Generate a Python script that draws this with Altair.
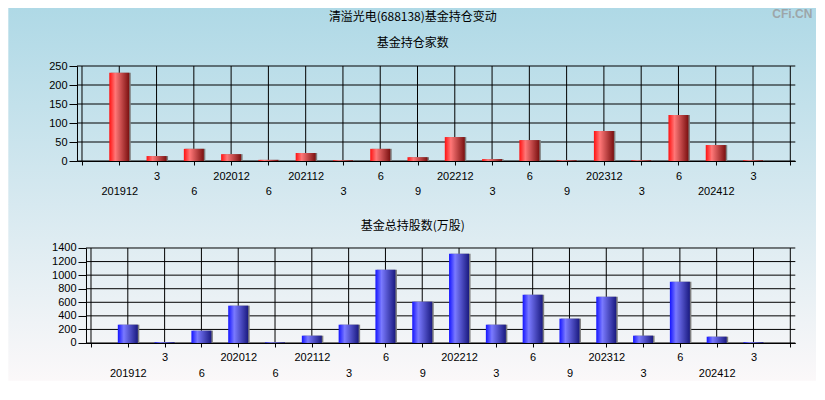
import json
import altair as alt
import pandas as pd

# ---------------- data ----------------
periods = ["201912", "3", "6", "202012", "6", "202112", "3", "6", "9",
           "202212", "3", "6", "9", "202312", "3", "6", "202412", "3"]
fund_count = [232, 13, 32, 18, 3, 21, 2, 32, 10, 63, 5, 55, 2, 79, 2, 121, 42, 2]
fund_shares = [270, 12, 182, 550, 10, 108, 270, 1081, 609, 1316, 270, 712, 359,
               683, 108, 904, 93, 12]
count_ticks = [0, 50, 100, 150, 200, 250]
share_ticks = [0, 200, 400, 600, 800, 1000, 1200, 1400]

main_title = "清溢光电(688138)基金持仓变动"
top_title = "基金持仓家数"
bottom_title = "基金总持股数(万股)"
watermark = "CFi.CN"

n = len(periods)
slots = list(range(0, n + 2))          # grid positions 0..19
positions = list(range(1, n + 1))      # bar positions 1..18

df = pd.DataFrame({"pos": positions, "period": periods,
                   "count": fund_count, "shares": fund_shares})
one = pd.DataFrame({"a": [0]})

# ---------------- style helpers ----------------
C0 = (173, 216, 230)   # lightblue at top of page
C1 = (255, 250, 250)   # snow at bottom of page


def page_color(yp):
    t = max(0.0, min(1.0, yp / 400.0))
    r, g, b = (round(C0[i] + (C1[i] - C0[i]) * t) for i in range(3))
    return f"#{r:02x}{g:02x}{b:02x}"


def vgrad(y0, y1):
    return alt.Gradient(gradient="linear", x1=0, y1=0, x2=0, y2=1,
                        stops=[alt.GradientStop(offset=0, color=page_color(y0)),
                               alt.GradientStop(offset=1, color=page_color(y1))])


def bargrad(c_left, c_mid, c_right):
    return alt.Gradient(gradient="linear", x1=0, y1=0, x2=1, y2=0,
                        stops=[alt.GradientStop(offset=0, color=c_left),
                               alt.GradientStop(offset=0.3, color=c_mid),
                               alt.GradientStop(offset=1, color=c_right)])


LABEL_FONT = "Liberation Sans"
CJK_FONT = "Noto Sans CJK SC"
arr = json.dumps(periods, ensure_ascii=False)
label_expr = (f"datum.value >= 1 && datum.value <= {n} ? "
              f"(datum.value % 2 == 1 ? ['', {arr}[datum.value - 1]] : {arr}[datum.value - 1]) : ''")

# page extents of the drawing (kept inside the 825x400 window)
PAGE_L, PAGE_R, PAGE_T, PAGE_MID, PAGE_B = 8, 816, 8, 205, 380
LEFT = 76.7      # page x of the (common) plot origin
WIDTH = 718.3    # plot width up to the right border


def panel(field, domain, ticks, inset, top, height, colors, title_text,
          with_main=False):
    xscale = alt.Scale(domain=[0, n + 1], nice=False, zero=False,
                       range=[inset, WIDTH])
    yscale = alt.Scale(domain=domain, nice=False)
    y0 = PAGE_T if with_main else PAGE_MID - 1
    y1 = PAGE_MID if with_main else PAGE_B

    xaxis = alt.Axis(values=slots, grid=False, title=None, labelExpr=label_expr,
                     tickSize=4, tickColor="black", domainColor="black",
                     labelFont=LABEL_FONT, labelFontSize=11, labelColor="black",
                     labelPadding=5, labelLineHeight=16, labelFlush=False,
                     labelOverlap=False, labelBaseline="top", zindex=1)
    yaxis = alt.Axis(values=ticks, grid=False, title=None, tickSize=8,
                     tickColor="black", domainColor="black", format="d",
                     labelFont=LABEL_FONT, labelFontSize=11, labelColor="black",
                     labelPadding=2, labelOverlap=False, zindex=1,
                     offset=-inset)

    bg = alt.Chart(one).mark_rect(color=vgrad(y0, y1)).encode(
        x=alt.value(PAGE_L - LEFT), x2=alt.value(PAGE_R - LEFT),
        y=alt.value(y0 - top), y2=alt.value(y1 - top))

    vgrid = alt.Chart(pd.DataFrame({"pos": slots})).mark_rule(
        color="black", strokeWidth=1).encode(
        x=alt.X("pos:Q", scale=xscale, axis=xaxis))
    hgrid = alt.Chart(pd.DataFrame({field: ticks})).mark_rule(
        color="black", strokeWidth=1).encode(
        y=alt.Y(f"{field}:Q", scale=yscale, axis=yaxis),
        x=alt.value(inset), x2=alt.value(WIDTH))

    shadow = alt.Chart(df).mark_bar(size=20, xOffset=1.5, color="#7f7f7f").encode(
        x=alt.X("pos:Q", scale=xscale, axis=xaxis),
        y=alt.Y(f"{field}:Q", scale=yscale, axis=yaxis))
    bars = alt.Chart(df).mark_bar(size=20, color=bargrad(*colors)).encode(
        x=alt.X("pos:Q", scale=xscale, axis=xaxis),
        y=alt.Y(f"{field}:Q", scale=yscale, axis=yaxis),
        tooltip=["period", f"{field}:Q"])

    cx = 412.5 - LEFT
    texts = []
    if with_main:
        texts.append(alt.Chart(one).mark_text(
            text=main_title, font=CJK_FONT, fontSize=12, color="black",
            baseline="middle", align="center").encode(
            x=alt.value(cx), y=alt.value(17 - top)))
        texts.append(alt.Chart(one).mark_text(
            text=watermark, font=LABEL_FONT, fontSize=12, fontWeight="bold",
            color="#9da6a9", baseline="top", align="right").encode(
            x=alt.value(PAGE_R - 4 - LEFT), y=alt.value(PAGE_T + 1 - top)))
        sub_y = 43
    else:
        sub_y = 225
    texts.append(alt.Chart(one).mark_text(
        text=title_text, font=CJK_FONT, fontSize=12, color="black",
        baseline="middle", align="center").encode(
        x=alt.value(cx), y=alt.value(sub_y - top)))

    return alt.layer(bg, vgrid, hgrid, shadow, bars, *texts).properties(
        width=WIDTH, height=height)


top = panel("count", [0, 250], count_ticks, 0, 66, 95,
            ("#ff1010", "#ff7777", "#7a1010"), top_title, with_main=True)
bottom = panel("shares", [0, 1400], share_ticks, 9, 247.3, 95,
               ("#1414ff", "#7a7aff", "#1a1a80"), bottom_title)

chart = alt.concat(top, bottom, columns=1, spacing=-1, align="none").properties(
    padding=0, background="white"
).configure_view(strokeWidth=0)

chart.save("out.html", embed_options={"renderer": "svg", "actions": False})
